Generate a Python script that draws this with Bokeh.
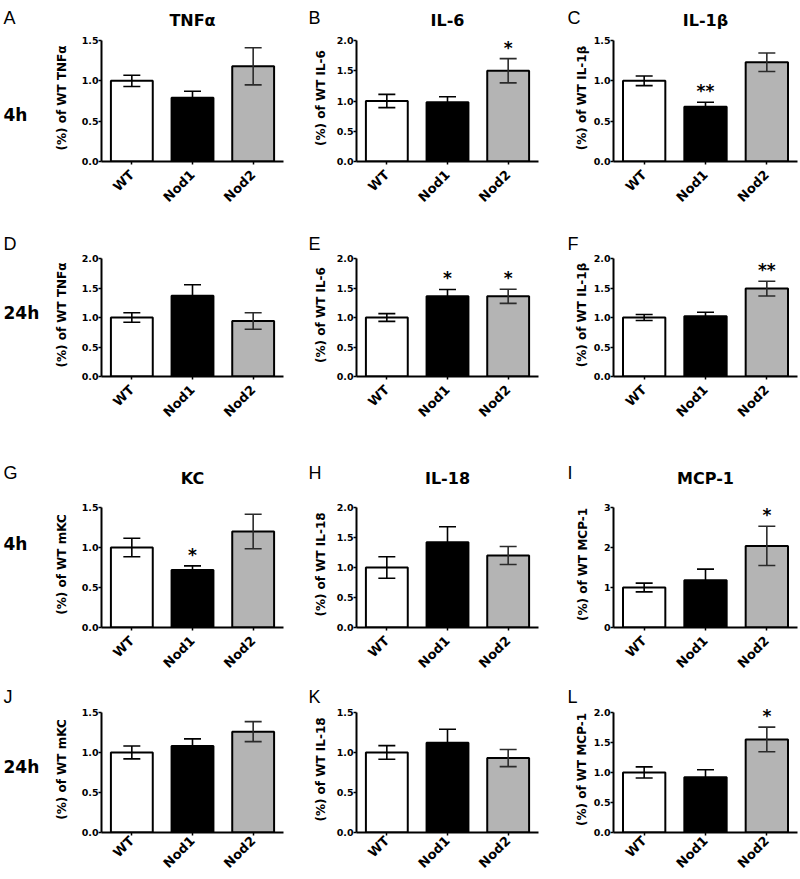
import math
from bokeh.plotting import figure
from bokeh.models import (ColumnDataSource, FactorRange, Range1d, FixedTicker, Whisker,
                          TeeHead, NumeralTickFormatter)
from bokeh.layouts import row, column
from bokeh.embed import file_html
from bokeh.resources import INLINE
from bokeh.core.properties import value

# ---------------- data ----------------
groups = ["WT", "Nod1", "Nod2"]
bar_colors = ["#ffffff", "#000000", "#b4b4b4"]

panel_letters = ["A", "B", "C", "D", "E", "F", "G", "H", "I", "J", "K", "L"]
panel_titles = ["TNFα", "IL-6", "IL-1β", "", "", "", "KC", "IL-18", "MCP-1", "", "", ""]
row_labels = ["4h", "24h", "4h", "24h"]
y_labels = ["(%) of WT TNFα", "(%) of WT IL-6", "(%) of WT IL-1β",
            "(%) of WT TNFα", "(%) of WT IL-6", "(%) of WT IL-1β",
            "(%) of WT mKC", "(%) of WT IL-18", "(%) of WT MCP-1",
            "(%) of WT mKC", "(%) of WT IL-18", "(%) of WT MCP-1"]
y_max = [1.5, 2.0, 1.5, 2.0, 2.0, 2.0, 1.5, 2.0, 3.0, 1.5, 1.5, 2.0]
y_step = [0.5, 0.5, 0.5, 0.5, 0.5, 0.5, 0.5, 0.5, 1.0, 0.5, 0.5, 0.5]

means_A = [1.00, 0.79, 1.18]
means_B = [1.00, 0.98, 1.50]
means_C = [1.00, 0.68, 1.23]
means_D = [1.00, 1.37, 0.94]
means_E = [1.00, 1.36, 1.36]
means_F = [1.00, 1.02, 1.49]
means_G = [1.00, 0.72, 1.20]
means_H = [1.00, 1.42, 1.20]
means_I = [1.00, 1.18, 2.04]
means_J = [1.00, 1.08, 1.26]
means_K = [1.00, 1.12, 0.93]
means_L = [1.00, 0.92, 1.55]

sem_A = [0.07, 0.08, 0.23]
sem_B = [0.11, 0.09, 0.20]
sem_C = [0.06, 0.055, 0.115]
sem_D = [0.08, 0.185, 0.14]
sem_E = [0.065, 0.115, 0.12]
sem_F = [0.05, 0.07, 0.125]
sem_G = [0.115, 0.05, 0.215]
sem_H = [0.18, 0.26, 0.15]
sem_I = [0.11, 0.28, 0.49]
sem_J = [0.08, 0.09, 0.125]
sem_K = [0.085, 0.17, 0.107]
sem_L = [0.093, 0.125, 0.205]

stars_A = ["", "", ""]
stars_B = ["", "", "*"]
stars_C = ["", "**", ""]
stars_D = ["", "", ""]
stars_E = ["", "*", "*"]
stars_F = ["", "", "**"]
stars_G = ["", "*", ""]
stars_H = ["", "", ""]
stars_I = ["", "", "*"]
stars_J = ["", "", ""]
stars_K = ["", "", ""]
stars_L = ["", "", "*"]

all_means = [means_A, means_B, means_C, means_D, means_E, means_F,
             means_G, means_H, means_I, means_J, means_K, means_L]
all_sems = [sem_A, sem_B, sem_C, sem_D, sem_E, sem_F,
            sem_G, sem_H, sem_I, sem_J, sem_K, sem_L]
all_stars = [stars_A, stars_B, stars_C, stars_D, stars_E, stars_F,
             stars_G, stars_H, stars_I, stars_J, stars_K, stars_L]

# ---------------- layout (page pixels) ----------------
FONT = "DejaVu Sans"
LETTER_FONT = "Liberation Sans"
PAGE_W = 800
BASE_SHIFT = 6       # rendered alphabetic baseline sits this much lower

STRIP_W = 48
col_x0 = [48, 300, 556]
col_w = [252, 256, 244]
col_bl = [53, 56, 57]
col_fw = [182, 182, 184]
ylab_standoff = [10, 6, 2]

head_top = [0, 230, 440, 680]
head_h = [34, 23, 50, 26]
chart_h = [196, 187, 190, 173]
chart_bt = [6, 5, 17, 6]         # border above the top tick
chart_fh = [121, 118, 120, 121]  # pixels from 0 to the top tick
head_room = [6, 5, 6, 6]         # frame space kept above the top tick (for stars)
xlab_standoff = [8, 8, 8, 3]

letter_x = [3, 308, 567]
letter_base = [23, 249, 478, 702]
rowlab_base = [120, 318, 549, 773]
title_base = [26, None, 484, None]


def blank(w, h, y_top, y_bottom, bt=0, bb=0):
    """Axis-less figure whose data coordinates equal page pixels."""
    f = figure(width=w, height=h, x_range=Range1d(0, w),
               y_range=Range1d(y_bottom, y_top),
               x_axis_location=None, y_axis_location=None,
               output_backend="svg", toolbar_location=None,
               min_border_left=0, min_border_right=0,
               min_border_top=bt, min_border_bottom=bb)
    f.outline_line_color = None
    f.grid.visible = False
    f.background_fill_color = "white"
    f.border_fill_color = "white"
    return f


def put_text(f, xs, ys, texts, font, size, bold, align="left"):
    f.text(x=xs, y=[v - BASE_SHIFT for v in ys], text=texts,
           text_font=value(font), text_font_size=size,
           text_font_style="bold" if bold else "normal",
           text_baseline="alphabetic", text_align=align, text_color="black")


blocks = []
for r in range(4):
    # header band: panel letters and cytokine names
    ht = head_top[r]
    hb = ht + head_h[r]
    head = blank(PAGE_W, head_h[r], ht, hb)
    letters = [panel_letters[3 * r + c] for c in range(3)]
    put_text(head, letter_x, [letter_base[r]] * 3, letters, LETTER_FONT, "18px", False)
    tx, tt = [], []
    for c in range(3):
        if panel_titles[3 * r + c]:
            tx.append(col_x0[c] + col_bl[c] + col_fw[c] / 2)
            tt.append(panel_titles[3 * r + c])
    if tt:
        put_text(head, tx, [title_base[r]] * len(tt), tt, FONT, "16px", True, "center")
    blocks.append(head)

    # geometry of this row's frames
    ch = chart_h[r]
    ext = head_room[r]
    bt = chart_bt[r] - ext
    fh = chart_fh[r] + ext
    bb = ch - bt - fh

    # left strip: time-point label (frame aligned with the charts' frames)
    f_top = hb + bt
    f_bot = f_top + fh
    strip = blank(STRIP_W, ch, f_top, f_bot, bt=bt, bb=bb)
    put_text(strip, [3], [rowlab_base[r]], [row_labels[r]], FONT, "17px", True)
    cells = [strip]

    for c in range(3):
        i = 3 * r + c
        ymax = y_max[i]
        step = y_step[i]
        nt = int(round(ymax / step))
        ticks = [round(k * step, 3) for k in range(nt + 1)]
        y_end = ymax * fh / chart_fh[r]

        p = figure(width=col_w[c], height=ch,
                   x_range=FactorRange(factors=groups),
                   y_range=Range1d(0, y_end),
                   output_backend="svg", toolbar_location=None,
                   min_border_left=col_bl[c], min_border_top=bt,
                   min_border_right=col_w[c] - col_bl[c] - col_fw[c],
                   min_border_bottom=bb)
        p.outline_line_color = None
        p.xgrid.visible = False
        p.ygrid.visible = False
        p.background_fill_color = "white"
        p.border_fill_color = "white"

        m = all_means[i]
        e = all_sems[i]
        src = ColumnDataSource(dict(g=groups, m=m, c=bar_colors))
        p.vbar(x="g", top="m", width=0.69, bottom=0, fill_color="c",
               line_color="black", line_width=2, source=src)

        for idx_set, col in (([0, 1], "black"), ([2], "#2b2b2b")):
            sub = ColumnDataSource(dict(g=[groups[k] for k in idx_set],
                                        u=[m[k] + e[k] for k in idx_set],
                                        l=[m[k] - e[k] for k in idx_set]))
            w = Whisker(base="g", upper="u", lower="l", source=sub,
                        line_color=col, line_width=1.6, level="overlay",
                        upper_head=TeeHead(size=17, line_color=col, line_width=1.6),
                        lower_head=TeeHead(size=17, line_color=col, line_width=1.6))
            p.add_layout(w)

        st = all_stars[i]
        sk = [k for k in range(3) if st[k]]
        if sk:
            ssrc = ColumnDataSource(dict(g=[groups[k] for k in sk],
                                         y=[m[k] + e[k] for k in sk],
                                         s=[st[k] for k in sk]))
            p.text(x="g", y="y", text="s", source=ssrc, text_align="center",
                   text_baseline="alphabetic", y_offset=-11,
                   text_font=value(FONT), text_font_style="bold",
                   text_font_size="17px", text_color="black")

        ya = p.yaxis[0]
        ya.bounds = (0, ymax)
        ya.ticker = FixedTicker(ticks=ticks)
        ya.formatter = NumeralTickFormatter(format="0" if step >= 1 else "0.0")
        ya.minor_tick_line_color = None
        ya.major_tick_in = 0
        ya.major_tick_out = 3
        ya.major_tick_line_width = 1.5
        ya.axis_line_width = 2
        ya.major_label_standoff = 0
        ya.major_label_text_font = FONT
        ya.major_label_text_font_style = "bold"
        ya.major_label_text_font_size = "9.5px"
        ya.major_label_text_color = "black"
        ya.axis_label = y_labels[i]
        ya.axis_label_text_font = FONT
        ya.axis_label_text_font_style = "bold"
        ya.axis_label_text_font_size = "12px"
        ya.axis_label_text_color = "black"
        ya.axis_label_standoff = ylab_standoff[c] + (9 if step >= 1 else 0)

        xa = p.xaxis[0]
        xa.major_label_orientation = math.pi / 4
        xa.major_tick_in = 0
        xa.major_tick_out = 3
        xa.major_tick_line_width = 1.5
        xa.axis_line_width = 2
        xa.major_label_standoff = xlab_standoff[r]
        xa.major_label_text_font = FONT
        xa.major_label_text_font_style = "bold"
        xa.major_label_text_font_size = "13px"
        xa.major_label_text_color = "black"
        cells.append(p)
    blocks.append(row(*cells, spacing=0))

layout = column(*blocks, spacing=0)

open("out.html", "w").write(file_html(layout, INLINE))
